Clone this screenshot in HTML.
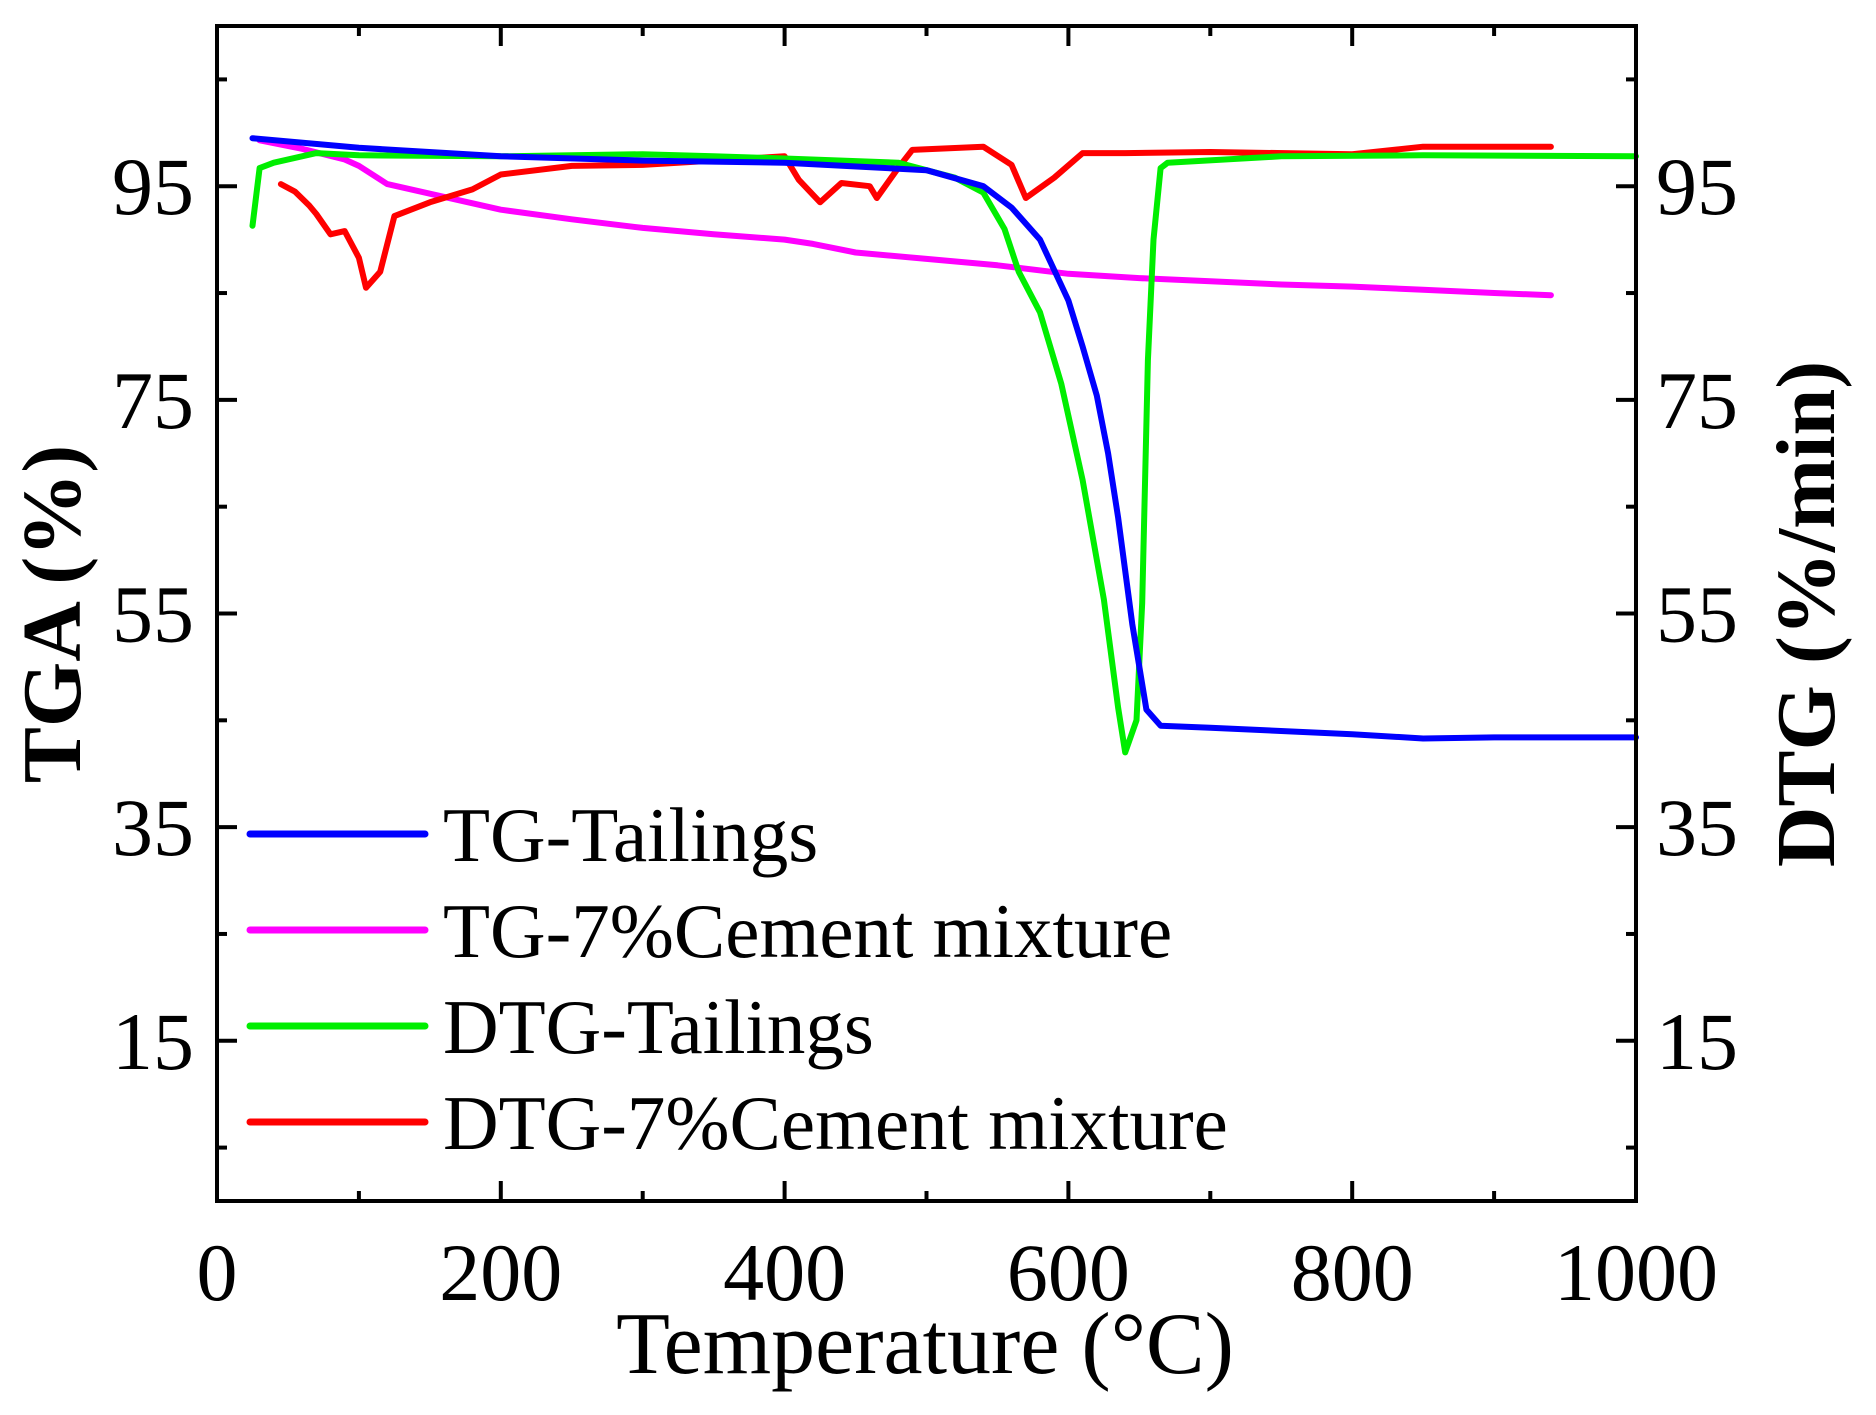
<!DOCTYPE html>
<html><head><meta charset="utf-8"><style>
body{margin:0;background:#fff}
svg{display:block}
text{font-family:"Liberation Serif",serif;fill:#000}
</style></head><body>
<svg id="c" width="1876" height="1415" viewBox="0 0 1876 1415"></svg>
<script>
const xTicks=[0,200,400,600,800,1000];
const yTicks=[15,35,55,75,95];
const tgT_x=[25,100,200,300,400,500,540,560,580,600,610,620,628,635,645,655,665,700,800,850,900,1000];
const tgT_y=[99.5,98.6,97.8,97.4,97.2,96.5,95,93,90,84.3,80,75.4,70,64,54,46,44.5,44.3,43.7,43.3,43.4,43.4];
const tgC_x=[30,60,90,100,120,150,200,250,300,350,400,420,450,500,550,600,650,700,750,800,850,900,940];
const tgC_y=[99.3,98.5,97.5,96.9,95.2,94.3,92.8,91.9,91.1,90.5,90,89.6,88.8,88.2,87.6,86.8,86.4,86.1,85.8,85.6,85.3,85,84.8];
const dtgT_x=[25,30,40,70,100,200,250,300,350,400,480,520,540,555,565,580,595,610,625,635,640,648,652,656,660,665,670,750,850,1000];
const dtgT_y=[91.3,96.7,97.2,98.1,97.9,97.8,97.9,98,97.8,97.6,97.2,95.8,94.4,91,87,83.2,76.5,67.5,56.3,46.2,42,45,56,78.7,90,96.7,97.2,97.8,97.9,97.8];
const dtgC_x=[45,55,65,70,80,90,100,105,115,125,150,180,200,250,300,400,410,425,440,460,465,480,490,540,560,570,590,610,640,700,800,850,940];
const dtgC_y=[95.2,94.5,93.2,92.4,90.5,90.8,88.3,85.5,87,92.2,93.5,94.7,96.1,96.9,97,97.8,95.6,93.5,95.3,95,93.9,96.7,98.4,98.7,97,93.9,95.8,98.1,98.1,98.2,98,98.7,98.7];
const L=217,R=1636,B=1201,T=26;
const sx=v=>L+(v-0)/1000*(R-L);
const sy=v=>B-v/110*(B-T);
const svg=document.getElementById('c');
const NS='http://www.w3.org/2000/svg';
function mk(tag,at,parent){const e=document.createElementNS(NS,tag);for(const k in at)e.setAttribute(k,at[k]);(parent||svg).appendChild(e);return e;}
function series(xs,ys,color,name){
 const d=xs.map((x,i)=>(i?'L':'M')+sx(x).toFixed(1)+','+sy(ys[i]).toFixed(1)).join('');
 const p=mk('path',{d:d,fill:'none',stroke:color,'stroke-width':6,'stroke-linejoin':'round','stroke-linecap':'round'});
 
 
}
series(tgC_x,tgC_y,'#ff00ff','tg-cement-line');
series(dtgC_x,dtgC_y,'#ff0000','dtg-cement-line');
series(dtgT_x,dtgT_y,'#00ee00','dtg-tailings-line');
series(tgT_x,tgT_y,'#0000ff','tg-tailings-line');
const fr=mk('rect',{x:L,y:T,width:R-L,height:B-T,fill:'none',stroke:'#000','stroke-width':4});


for(let v=0;v<=1000;v+=100){const len=v%200===0?20:10;
 mk('line',{x1:sx(v),x2:sx(v),y1:B,y2:B-len,stroke:'#000','stroke-width':4});
 mk('line',{x1:sx(v),x2:sx(v),y1:T,y2:T+len,stroke:'#000','stroke-width':4});}
xTicks.forEach(v=>{const t=mk('text',{x:sx(v),y:1300,'text-anchor':'middle','font-size':82});t.textContent=v;
 
 });
for(let v=5;v<=105;v+=10){const len=(v-15)%20===0?20:10;
 mk('line',{x1:L,x2:L+len,y1:sy(v),y2:sy(v),stroke:'#000','stroke-width':4});
 mk('line',{x1:R,x2:R-len,y1:sy(v),y2:sy(v),stroke:'#000','stroke-width':4});}
yTicks.forEach(v=>{
 const a=mk('text',{x:194,y:sy(v)+28,'text-anchor':'end','font-size':82});a.textContent=v;
 
 
 const b=mk('text',{x:1656,y:sy(v)+28,'text-anchor':'start','font-size':82});b.textContent=v;
 
 });
const xt=mk('text',{x:925,y:1373,'text-anchor':'middle','font-size':88});xt.textContent='Temperature (°C)';


const yl=mk('text',{x:0,y:0,'text-anchor':'middle','font-size':84,'font-weight':'bold',transform:'translate(80,614) rotate(-90)'});yl.textContent='TGA (%)';


const yr=mk('text',{x:0,y:0,'text-anchor':'middle','font-size':84,'font-weight':'bold',transform:'translate(1834,614) rotate(-90)'});yr.textContent='DTG (%/min)';


const leg=[['TG-Tailings','#0000ff',834],['TG-7%Cement mixture','#ff00ff',930],['DTG-Tailings','#00ee00',1026],['DTG-7%Cement mixture','#ff0000',1122]];
leg.forEach(([lab,c,y])=>{
 const g=mk('g',{});
 
 
 mk('line',{x1:250,x2:425,y1:y,y2:y,stroke:c,'stroke-width':7,'stroke-linecap':'round'},g);
 const t=mk('text',{x:443,y:y+27,'font-size':77},g);t.textContent=lab;});
</script>
</body></html>
